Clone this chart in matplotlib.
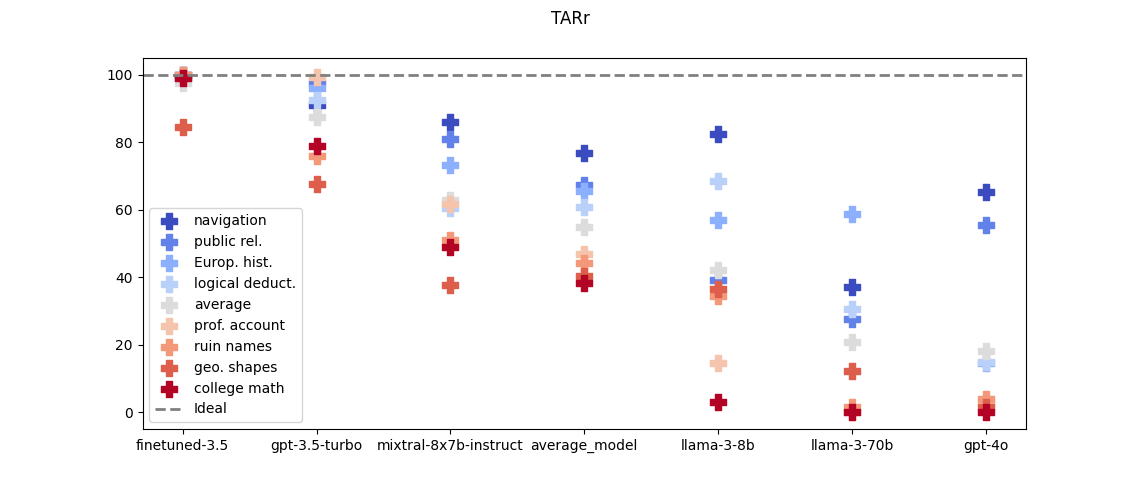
import matplotlib
matplotlib.use("Agg")
import matplotlib.pyplot as plt
import numpy as np

models = ["finetuned-3.5", "gpt-3.5-turbo", "mixtral-8x7b-instruct", "average_model",
          "llama-3-8b", "llama-3-70b", "gpt-4o"]

tasks = ["navigation", "public rel.", "Europ. hist.", "logical deduct.", "average",
         "prof. account", "ruin names", "geo. shapes", "college math"]

navigation      = [100.0, 91.0, 85.9, 76.8, 82.4, 37.0, 65.2]
public_rel      = [100.0, 97.4, 80.9, 67.4, 39.2, 27.5, 55.4]
europ_hist      = [99.0, 96.0, 73.2, 65.4, 57.0, 58.8, 14.5]
logical_deduct  = [99.0, 92.6, 60.5, 60.9, 68.5, 30.5, 14.8]
average         = [97.5, 87.5, 62.9, 54.8, 42.1, 20.9, 18.2]
prof_account    = [100.0, 99.4, 61.7, 46.9, 14.7, 0.0, 3.0]
ruin_names      = [100.0, 75.8, 51.0, 44.3, 34.4, 1.6, 4.0]
geo_shapes      = [84.5, 67.6, 37.6, 40.2, 36.4, 12.3, 1.5]
college_math    = [99.0, 79.0, 49.0, 38.4, 2.9, 0.0, 0.0]

series = [navigation, public_rel, europ_hist, logical_deduct, average,
          prof_account, ruin_names, geo_shapes, college_math]

colors = plt.cm.coolwarm(np.linspace(0, 1, len(tasks)))

fig, ax = plt.subplots(figsize=(11.4, 4.82), dpi=100)
x = np.arange(len(models))
for name, vals, c in zip(tasks, series, colors):
    ax.scatter(x, vals, marker="P", s=140, color=c, label=name)

ax.axhline(100, color="gray", linestyle="--", linewidth=2, label="Ideal")
ax.set_xticks(x)
ax.set_xticklabels(models)
ax.legend(loc="lower left")
fig.suptitle("TARr")

fig.savefig("out.png", dpi=100)
